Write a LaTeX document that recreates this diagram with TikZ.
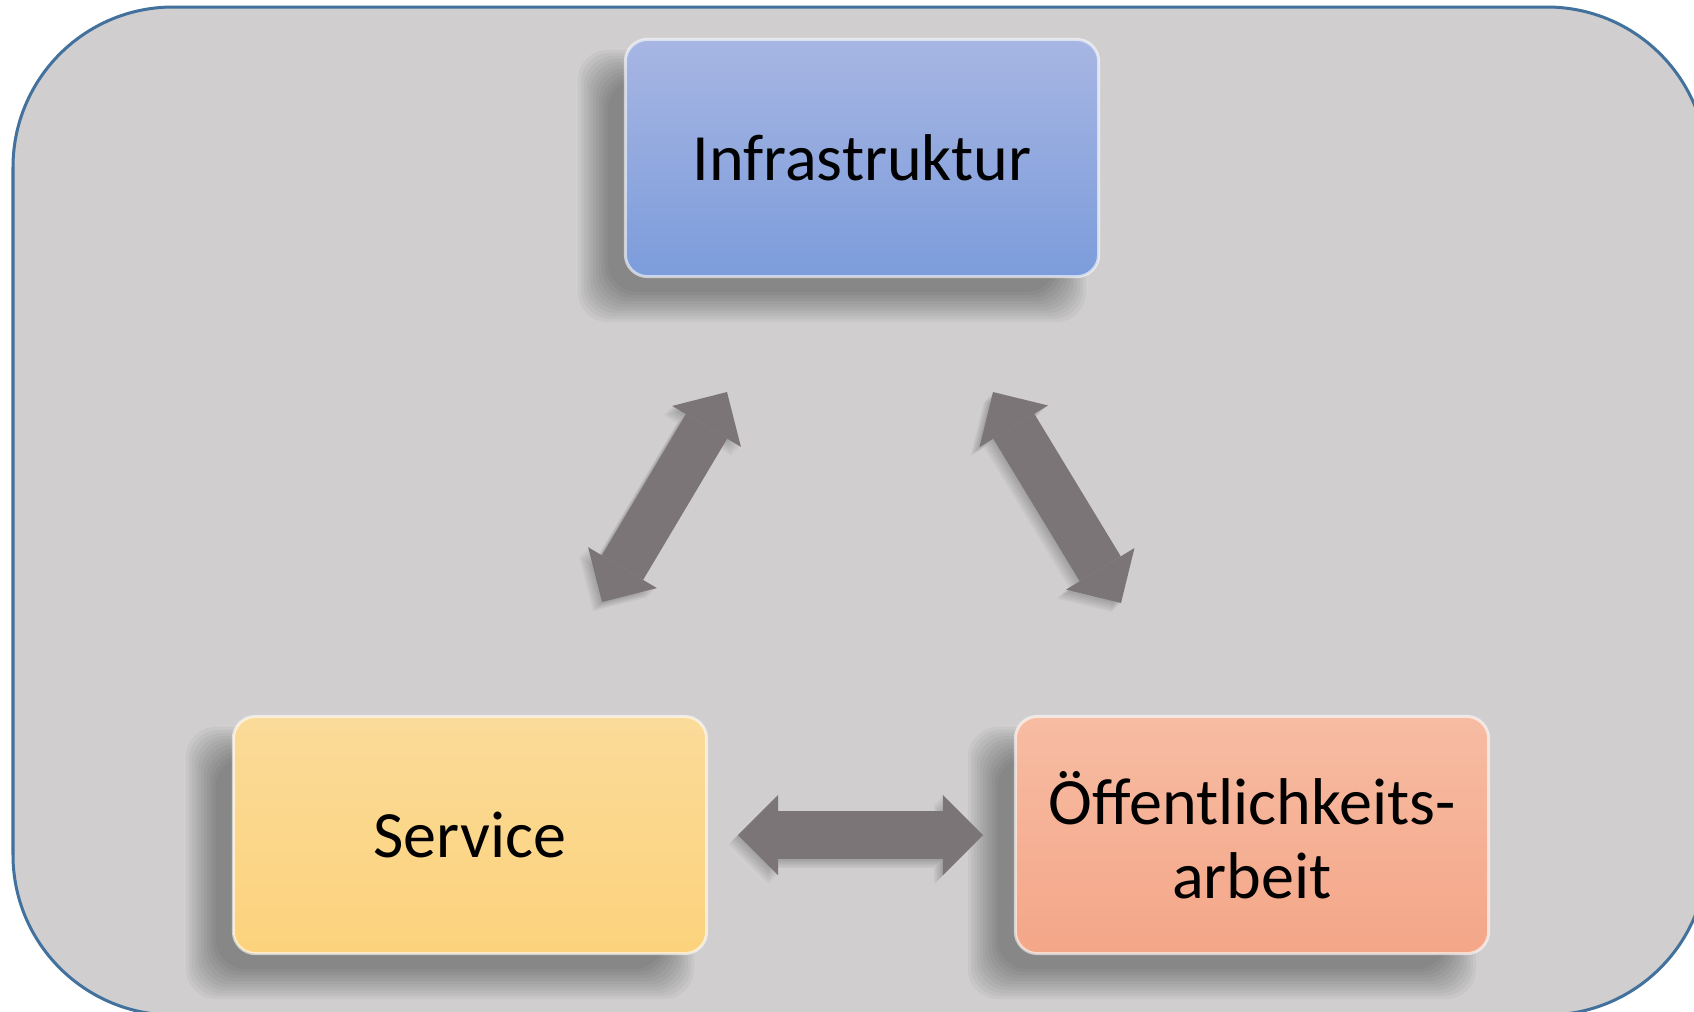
\documentclass[tikz,border=0pt]{standalone}
\usepackage{fontspec}
\setmainfont{Carlito}
\usetikzlibrary{arrows.meta,calc}

\definecolor{frameline}{RGB}{65,113,156}
\definecolor{framefill}{RGB}{208,206,207}
\definecolor{linkgray}{RGB}{124,117,119}
\definecolor{infratop}{RGB}{167,182,227}
\definecolor{infrabot}{RGB}{124,156,219}
\definecolor{servicetop}{RGB}{251,219,153}
\definecolor{servicebot}{RGB}{252,210,124}
\definecolor{publictop}{RGB}{247,188,163}
\definecolor{publicbot}{RGB}{244,166,136}

\pgfdeclarelayer{back}
\pgfdeclarelayer{shade}
\pgfsetlayers{back,shade,main}

\begin{document}
\begin{tikzpicture}[
    x=0.01cm, y=-0.01cm,
    frame/.style={draw=frameline, fill=framefill, line width=0.03cm, rounded corners=1.6cm},
    tile/.style={rectangle, rounded corners=0.22cm, draw=white, draw opacity=0.6, line width=0.03cm, minimum width=4.73cm, minimum height=2.37cm, inner sep=0pt, align=center, font=\fontsize{18.8}{20.9}\selectfont},
    link/.style={draw=linkgray, line width=0.48cm, >={Triangle[width=0.8cm,length=0.4cm,line width=0pt]}, <->}
]
\useasboundingbox (0,0) rectangle (1694,1011);

% Nodes
\node[tile, top color=infratop, bottom color=infrabot] (infra) at (862,158) {Infrastruktur};
\node[tile, top color=servicetop, bottom color=servicebot] (service) at (470,835) {Service};
\node[tile, top color=publictop, bottom color=publicbot] (public) at (1252,835) {Öffentlichkeits-\\arbeit};

% Arrow ends
\coordinate (leftlow) at (602,602);
\coordinate (lefthigh) at (727,392);
\coordinate (righthigh) at (993,392);
\coordinate (rightlow) at (1121,603);
\coordinate (midleft) at (738,835);
\coordinate (midright) at (983,835);

% Arrows
\draw[link] (leftlow) -- (lefthigh);
\draw[link] (righthigh) -- (rightlow);
\draw[link] (midleft) -- (midright);

% Shadows
\begin{pgfonlayer}{shade}
\foreach \n in {infra,service,public} {
  \foreach \k in {0,...,10} {
    \fill[black, opacity=0.036, rounded corners=0.3cm]
      ($(\n.north west)+(-46+3*\k,12+3*\k)$) rectangle ($(\n.south east)+(-14-3*\k,44-3*\k)$);
  }
}
\foreach \k in {1,...,6} {
  \draw[link, draw=black, opacity=0.035, transform canvas={shift={(-1.5*\k,1.5*\k)}}] (leftlow) -- (lefthigh);
  \draw[link, draw=black, opacity=0.035, transform canvas={shift={(-1.5*\k,1.5*\k)}}] (righthigh) -- (rightlow);
  \draw[link, draw=black, opacity=0.035, transform canvas={shift={(-1.5*\k,1.5*\k)}}] (midleft) -- (midright);
}
\end{pgfonlayer}

% Frame
\begin{pgfonlayer}{back}
\fill[white] (0,0) rectangle (1694,1011);
\clip (0,0) rectangle (1694,1011);
\draw[frame] (13,7) rectangle (1707,1015);
\end{pgfonlayer}

\end{tikzpicture}
\end{document}
